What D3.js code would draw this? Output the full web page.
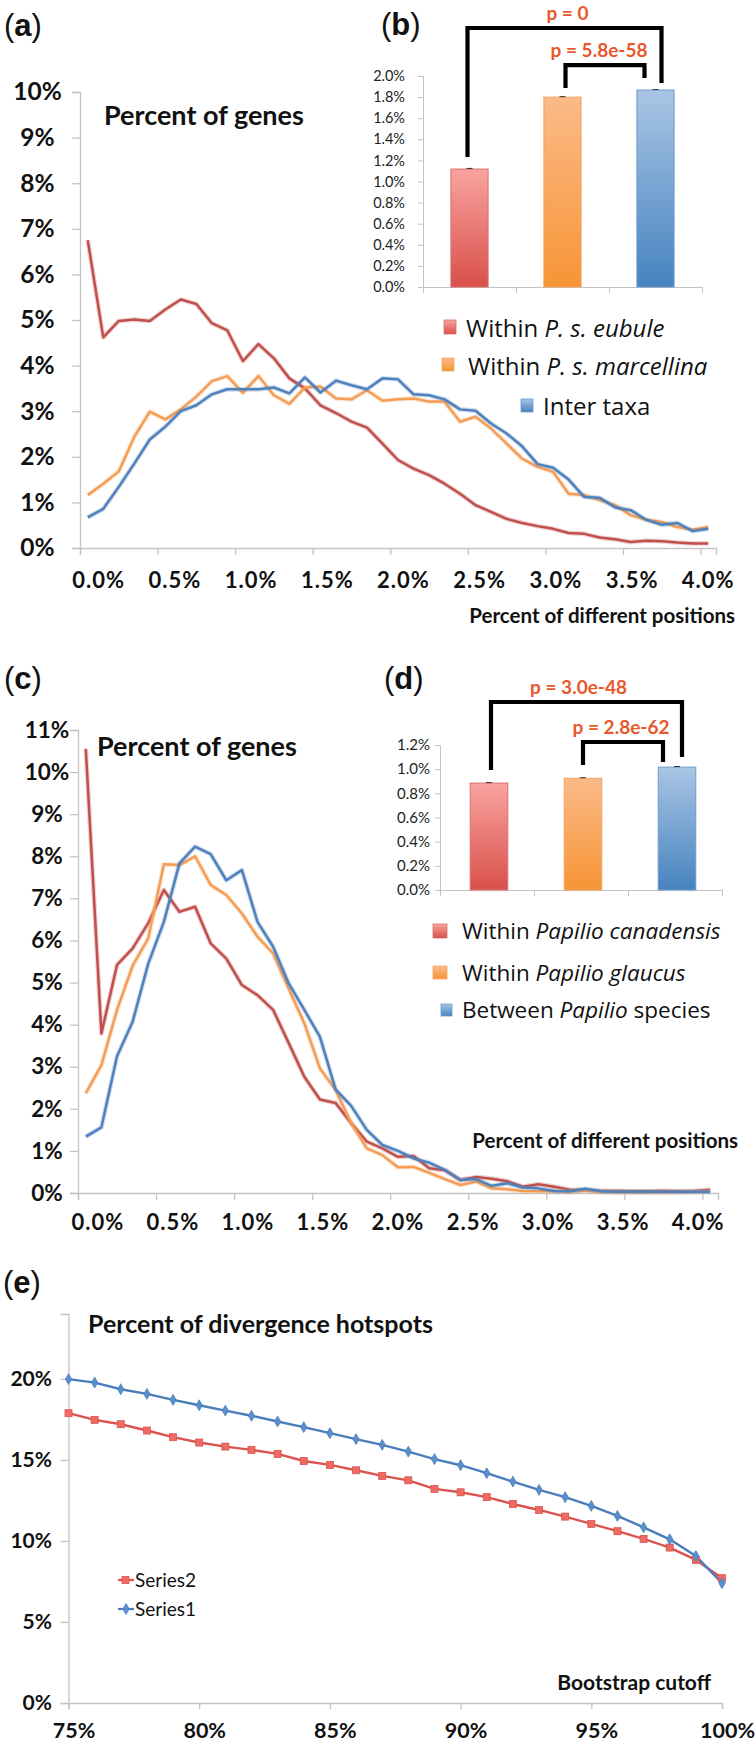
<!DOCTYPE html>
<html><head><meta charset="utf-8">
<script src="https://cdn.jsdelivr.net/npm/d3@7"></script>
<style>body{margin:0;background:#fff} svg{display:block}</style>
</head><body>
<svg id="chart" width="756" height="1748"></svg>
<script>
// ---------------- DATA ----------------
const divCats = ["0.0","0.1","0.2","0.3","0.4","0.5","0.6","0.7","0.8","0.9","1.0","1.1","1.2","1.3","1.4","1.5","1.6","1.7","1.8","1.9","2.0","2.1","2.2","2.3","2.4","2.5","2.6","2.7","2.8","2.9","3.0","3.1","3.2","3.3","3.4","3.5","3.6","3.7","3.8","3.9","4.0"];
const divTickLabels = ["0.0%","0.5%","1.0%","1.5%","2.0%","2.5%","3.0%","3.5%","4.0%"];
const divTickCats = ["0.0","0.5","1.0","1.5","2.0","2.5","3.0","3.5","4.0"];

// panel (a)
const aEubule = [6.75,4.62,4.98,5.01,4.98,5.23,5.45,5.35,4.93,4.77,4.10,4.47,4.16,3.72,3.50,3.13,2.96,2.77,2.64,2.29,1.93,1.74,1.60,1.41,1.19,0.94,0.79,0.64,0.55,0.48,0.42,0.33,0.31,0.23,0.19,0.13,0.16,0.15,0.12,0.10,0.10];
const aMarcellina = [1.16,1.41,1.68,2.44,2.99,2.82,3.04,3.32,3.66,3.77,3.40,3.77,3.35,3.16,3.52,3.54,3.28,3.26,3.46,3.23,3.26,3.28,3.21,3.21,2.77,2.88,2.62,2.29,1.96,1.78,1.67,1.19,1.16,1.05,0.94,0.72,0.62,0.57,0.46,0.40,0.46];
const aInter = [0.67,0.86,1.34,1.85,2.38,2.66,3.00,3.13,3.37,3.48,3.48,3.48,3.52,3.39,3.74,3.41,3.67,3.57,3.48,3.72,3.70,3.37,3.35,3.26,3.04,3.01,2.73,2.51,2.23,1.84,1.76,1.50,1.12,1.10,0.89,0.83,0.62,0.51,0.55,0.37,0.42];
const aYTicks = [0,1,2,3,4,5,6,7,8,9,10];

// panel (b)
const bGroups = ["Within P. s. eubule","Within P. s. marcellina","Inter taxa"];
const bValues = [1.118, 1.800, 1.867];
const bErrors = [0.006, 0.004, 0.005];
const bYTicks = [0,0.2,0.4,0.6,0.8,1.0,1.2,1.4,1.6,1.8,2.0];
const bPLabels = ["p = 0","p = 5.8e-58"];

// panel (c)
const cCanadensis = [10.55,3.79,5.42,5.81,6.41,7.20,6.68,6.80,5.93,5.57,4.94,4.70,4.35,3.56,2.76,2.22,2.14,1.66,1.22,1.06,0.86,0.88,0.59,0.54,0.31,0.38,0.34,0.28,0.15,0.21,0.15,0.08,0.07,0.05,0.05,0.04,0.04,0.05,0.04,0.05,0.08];
const cGlaucus = [2.37,3.04,4.35,5.40,6.05,7.81,7.79,8.00,7.32,7.08,6.64,6.09,5.69,4.85,4.03,2.96,2.45,1.66,1.06,0.90,0.61,0.62,0.48,0.33,0.19,0.27,0.11,0.09,0.05,0.04,0.05,0.03,0.06,0.03,0.02,0.02,0.02,0.02,0.03,0.03,0.04];
const cBetween = [1.34,1.56,3.25,4.07,5.45,6.44,7.83,8.23,8.05,7.43,7.67,6.44,5.85,4.98,4.35,3.71,2.46,2.07,1.50,1.14,1.00,0.82,0.72,0.55,0.31,0.33,0.17,0.23,0.13,0.11,0.05,0.04,0.10,0.04,0.03,0.03,0.03,0.03,0.03,0.03,0.03];
const cYTicks = [0,1,2,3,4,5,6,7,8,9,10,11];

// panel (d)
const dGroups = ["Within Papilio canadensis","Within Papilio glaucus","Between Papilio species"];
const dValues = [0.885, 0.925, 1.017];
const dErrors = [0.004, 0.004, 0.005];
const dYTicks = [0,0.2,0.4,0.6,0.8,1.0,1.2];
const dPLabels = ["p = 3.0e-48","p = 2.8e-62"];

// panel (e)
const eCutoff = [75,76,77,78,79,80,81,82,83,84,85,86,87,88,89,90,91,92,93,94,95,96,97,98,99,100];
const eSeries1 = [19.98,19.77,19.36,19.07,18.70,18.37,18.04,17.72,17.37,17.02,16.65,16.28,15.93,15.51,15.05,14.67,14.18,13.66,13.15,12.70,12.16,11.54,10.84,10.10,9.07,7.39];
const eSeries2 = [17.88,17.47,17.20,16.81,16.40,16.07,15.82,15.62,15.37,14.93,14.69,14.36,14.01,13.74,13.21,13.00,12.70,12.28,11.91,11.50,11.05,10.60,10.12,9.59,8.83,7.70];
const eYTicks = [0,5,10,15,20];
const eXTicks = [75,80,85,90,95,100];

// ---------------- STYLE ----------------
const FONT = "Lato, 'Open Sans', sans-serif";
const LEG_FONT = "'Open Sans', Lato, sans-serif";
const AXIS = "#c4c4c4";
const RED = "#c0504d", ORANGE = "#f59d55", BLUE = "#4f81bd";
const PCOL = "#e8582b";

const svg = d3.select("#chart");
svg.append("rect").attr("width",756).attr("height",1748).attr("fill","#fff");
const defs = svg.append("defs");
function grad(id, top, bottom){
  const g = defs.append("linearGradient").attr("id",id).attr("x1",0).attr("y1",0).attr("x2",0).attr("y2",1);
  g.append("stop").attr("offset","0%").attr("stop-color",top);
  g.append("stop").attr("offset","100%").attr("stop-color",bottom);
}
grad("gRed","#f9a39f","#d9504b");
grad("gOrg","#fbba88","#f79536");
grad("gBlu","#a9c5e4","#4683bf");
const GRADS = ["url(#gRed)","url(#gOrg)","url(#gBlu)"];
const BAR_STROKES = ["#d8716d","#f2a465","#6f9bcb"];

function panelLabel(x, y, letter){
  const t = svg.append("text").attr("x",x).attr("y",y)
    .attr("font-family","'Liberation Sans', Arial, sans-serif").attr("font-size",31).attr("fill","#111");
  t.append("tspan").text("(");
  t.append("tspan").attr("font-weight","bold").text(letter);
  t.append("tspan").text(")");
}
function boldText(x, y, txt, size, anchor){
  svg.append("text").attr("x",x).attr("y",y).attr("font-family",FONT).attr("font-weight","bold")
    .attr("font-size",size).attr("fill","#111").attr("text-anchor",anchor||"start").text(txt);
}
function styleAxis(g){
  g.select(".domain").attr("stroke",AXIS).attr("stroke-width",1.3);
  g.selectAll(".tick line").attr("stroke",AXIS).attr("stroke-width",1.3);
}

// ---------------- LINE PANELS (a),(c) ----------------
function linePanel(o){
  const n = o.cats.length;
  const x = d3.scaleBand().domain(o.cats).range([o.x0, o.x1]);
  const xb = d3.scaleLinear().domain([0, n]).range([o.x0, o.x1]);
  const y = d3.scaleLinear().domain([0, o.yMax]).range([o.yBase, o.yTop]);
  const g = svg.append("g");

  const ya = g.append("g").attr("transform",`translate(${o.x0},0)`)
    .call(d3.axisLeft(y).tickValues(o.yTicks).tickSize(8).tickFormat(d => d + "%"));
  styleAxis(ya);
  ya.selectAll(".tick text").attr("x", o.yLabelCX - o.x0).attr("text-anchor","middle")
    .attr("font-family",FONT).attr("font-weight","bold").attr("font-size",o.yFont).attr("fill","#111");

  const bounds = o.tickCats.map(c => o.cats.indexOf(c));
  const xa = g.append("g").attr("transform",`translate(0,${o.yBase})`)
    .call(d3.axisBottom(xb).tickValues(bounds).tickSize(7).tickFormat(""));
  styleAxis(xa);

  const lx = d3.scaleLinear().domain([0, n - 1])
    .range([x(o.cats[0]) + x.bandwidth()/2 + o.lblInset[0], x(o.cats[n-1]) + x.bandwidth()/2 - o.lblInset[1]]);
  g.selectAll("text.xl").data(o.tickLabels).join("text").attr("class","xl")
    .attr("x",(d,i) => lx(bounds[i])).attr("y", o.xLblY)
    .attr("text-anchor","middle").attr("font-family",FONT).attr("font-weight","bold")
    .attr("font-size",o.xFont).attr("letter-spacing",1).attr("fill","#111").text(d => d);

  const line = d3.line().x((d,i) => x(o.cats[i]) + x.bandwidth()/2).y(d => y(d));
  o.series.forEach(s => {
    g.append("path").datum(s.vals).attr("d",line).attr("fill","none")
      .attr("stroke",s.color).attr("stroke-opacity",0.25).attr("stroke-width",4.8).attr("stroke-linejoin","round");
    g.append("path").datum(s.vals).attr("d",line).attr("fill","none")
      .attr("stroke",s.color).attr("stroke-width",2.5).attr("stroke-linejoin","round");
  });
}

// ---------------- BAR PANELS (b),(d) ----------------
function barPanel(o){
  const x = d3.scaleBand().domain(o.groups).range([o.x0, o.x1]);
  const xb = d3.scaleLinear().domain([0, o.groups.length]).range([o.x0, o.x1]);
  const y = d3.scaleLinear().domain([0, o.yMax]).range([o.yBase, o.yTop]);
  const g = svg.append("g");
  const ya = g.append("g").attr("transform",`translate(${o.x0},0)`)
    .call(d3.axisLeft(y).tickValues(o.yTicks).tickSize(5).tickFormat(d => d.toFixed(1) + "%"));
  styleAxis(ya);
  ya.select(".domain").attr("stroke-width",1);
  ya.selectAll(".tick line").attr("stroke-width",1);
  ya.selectAll(".tick text").attr("x", -o.lblGap).attr("font-family",FONT).attr("font-size",o.yFont).attr("fill","#222");
  const xa = g.append("g").attr("transform",`translate(0,${o.yBase})`)
    .call(d3.axisBottom(xb).tickValues(d3.range(o.groups.length + 1)).tickSize(6).tickFormat(""));
  styleAxis(xa);
  xa.select(".domain").attr("stroke-width",1);
  xa.selectAll(".tick line").attr("stroke-width",1);

  const bw = x.bandwidth() * 0.4;
  const cx = d => x(d) + x.bandwidth()/2 + o.barShift;
  g.selectAll("rect.bar").data(o.groups).join("rect").attr("class","bar")
    .attr("x", d => cx(d) - bw/2).attr("width", bw)
    .attr("y",(d,i) => y(o.values[i])).attr("height",(d,i) => y(0) - y(o.values[i]))
    .attr("fill",(d,i) => GRADS[i]).attr("stroke",(d,i) => BAR_STROKES[i]).attr("stroke-width",1);
  // tiny error bars
  o.groups.forEach((d,i) => {
    const c = cx(d), t = y(o.values[i] + o.errors[i]);
    g.append("line").attr("x1",c).attr("x2",c).attr("y1",y(o.values[i])).attr("y2",t).attr("stroke","#333").attr("stroke-width",1);
    g.append("line").attr("x1",c-3).attr("x2",c+3).attr("y1",t).attr("y2",t).attr("stroke","#333").attr("stroke-width",1);
  });
  // significance brackets
  o.brackets.forEach((b,k) => {
    const xl = cx(o.groups[b.from]) + b.dl, xr = cx(o.groups[b.to]) + b.dr;
    g.append("path").attr("d",`M${xl},${y(b.lb)}V${y(b.top)}H${xr}V${y(b.rb)}`)
      .attr("fill","none").attr("stroke","#000").attr("stroke-width",4.2).attr("stroke-linejoin","miter");
    g.append("text").attr("x",(xl + xr)/2 + b.tdx).attr("y",y(b.top) - 8)
      .attr("text-anchor","middle").attr("font-family",FONT).attr("font-weight","bold")
      .attr("font-size",19).attr("fill",PCOL).text(o.pLabels[k]);
  });
}

function legend(items, fontSize){
  items.forEach((it,i) => {
    svg.append("rect").attr("x",it.sx).attr("y",it.sy).attr("width",it.sw).attr("height",it.sh)
      .attr("fill",GRADS[i]).attr("stroke",BAR_STROKES[i]).attr("stroke-width",0.8);
    const t = svg.append("text").attr("x",it.tx).attr("y",it.ty).attr("font-family",LEG_FONT)
      .attr("font-size",fontSize).attr("fill","#111");
    it.parts.forEach(p => t.append("tspan").attr("font-style", p[1] ? "italic" : "normal").text(p[0]));
  });
}

// ---------------- PANEL (a) ----------------
panelLabel(4, 36, "a");
linePanel({cats:divCats, tickCats:divTickCats, tickLabels:divTickLabels,
  series:[{vals:aEubule,color:RED},{vals:aMarcellina,color:ORANGE},{vals:aInter,color:BLUE}],
  x0:80, x1:716, yBase:548, yTop:92, yMax:10, yTicks:aYTicks, yLabelCX:37.5, yFont:24.5,
  xLblY:588, xFont:22, lblInset:[11,0]});
boldText(104, 125, "Percent of genes", 27);
boldText(735, 623, "Percent of different positions", 20.5, "end");

// ---------------- PANEL (b) ----------------
panelLabel(381, 35, "b");
barPanel({groups:bGroups, values:bValues, errors:bErrors, x0:423, x1:702, yBase:287, yTop:76, yMax:2.0,
  yTicks:bYTicks, yFont:14.5, lblGap:18, barShift:0, pLabels:bPLabels,
  brackets:[{from:0,to:2,top:2.455,lb:1.232,rb:1.934,dl:-2,dr:6,tdx:3},
            {from:1,to:2,top:2.104,lb:1.886,rb:1.981,dl:3,dr:-11,tdx:-6}]});
legend([
  {sx:444, sy:320, sw:12, sh:14, tx:466, ty:337, parts:[["Within ",0],["P. s. eubule",1]]},
  {sx:442, sy:358, sw:12, sh:13, tx:468, ty:375, parts:[["Within ",0],["P. s. marcellina",1]]},
  {sx:521, sy:399, sw:12, sh:13, tx:543, ty:415, parts:[["Inter taxa",0]]}
], 24);

// ---------------- PANEL (c) ----------------
panelLabel(4, 689, "c");
linePanel({cats:divCats, tickCats:divTickCats, tickLabels:divTickLabels,
  series:[{vals:cCanadensis,color:RED},{vals:cGlaucus,color:ORANGE},{vals:cBetween,color:BLUE}],
  x0:78, x1:718, yBase:1193, yTop:730, yMax:11, yTicks:cYTicks, yLabelCX:47, yFont:22.5,
  xLblY:1230, xFont:22, lblInset:[12,12]});
boldText(97, 756, "Percent of genes", 27);
boldText(738, 1148, "Percent of different positions", 20.5, "end");

// ---------------- PANEL (d) ----------------
panelLabel(384, 689, "d");
barPanel({groups:dGroups, values:dValues, errors:dErrors, x0:440, x1:722, yBase:890, yTop:745, yMax:1.2,
  yTicks:dYTicks, yFont:15, lblGap:10, barShift:2, pLabels:dPLabels,
  brackets:[{from:0,to:2,top:1.556,lb:0.993,rb:1.101,dl:2,dr:5,tdx:-8},
            {from:1,to:2,top:1.225,lb:1.034,rb:1.059,dl:0,dr:-14,tdx:-2}]});
legend([
  {sx:433, sy:924, sw:14, sh:14, tx:462, ty:939, parts:[["Within ",0],["Papilio canadensis",1]]},
  {sx:433, sy:966, sw:14, sh:13, tx:462, ty:981, parts:[["Within ",0],["Papilio glaucus",1]]},
  {sx:441, sy:1004, sw:11, sh:12, tx:462, ty:1018, parts:[["Between ",0],["Papilio",1],[" species",0]]}
], 22.5);

// ---------------- PANEL (e) ----------------
panelLabel(3, 1293, "e");
(function(){
  const x = d3.scaleLinear().domain([75,100]).range([68.5,722]);
  const y = d3.scaleLinear().domain([0,24]).range([1703,1314]);
  const g = svg.append("g");
  const ya = g.append("g").attr("transform","translate(68.5,0)")
    .call(d3.axisLeft(y).tickValues(eYTicks).tickSize(8).tickFormat(d => d + "%"));
  styleAxis(ya);
  ya.selectAll(".tick text").attr("x",-16.5).attr("font-family",FONT).attr("font-weight","bold")
    .attr("font-size",21).attr("fill","#111");
  const xa = g.append("g").attr("transform","translate(0,1703)")
    .call(d3.axisBottom(x).tickValues(eXTicks).tickSize(6).tickFormat(d => d + "%"));
  styleAxis(xa);
  xa.selectAll(".tick text").attr("y",20).attr("dy","0.71em").attr("dx",5).attr("font-family",FONT)
    .attr("font-weight","bold").attr("font-size",21.5).attr("fill","#111");

  const line = d3.line().x((d,i) => x(eCutoff[i])).y(d => y(d));
  const S2 = "#d9534f", S1 = "#4a7ebb";
  g.append("path").datum(eSeries2).attr("d",line).attr("fill","none").attr("stroke",S2).attr("stroke-width",2.4);
  g.append("path").datum(eSeries1).attr("d",line).attr("fill","none").attr("stroke",S1).attr("stroke-width",2.4);
  g.selectAll("rect.m2").data(eSeries2).join("rect").attr("class","m2")
    .attr("x",(d,i) => x(eCutoff[i]) - 3.5).attr("y",d => y(d) - 3.5).attr("width",7).attr("height",7)
    .attr("fill","#ee6b64").attr("stroke","#d9534f").attr("stroke-width",0.8);
  const diamond = d3.symbol().type(d3.symbolDiamond).size(34);
  g.selectAll("path.m1").data(eSeries1).join("path").attr("class","m1")
    .attr("transform",(d,i) => `translate(${x(eCutoff[i])},${y(d)})`).attr("d",diamond)
    .attr("fill","#5b8fcc").attr("stroke","#4a7ebb").attr("stroke-width",0.8);

  // legend
  const leg = [{name:"Series2", color:S2, y:1580, sq:true},{name:"Series1", color:S1, y:1609, sq:false}];
  leg.forEach(l => {
    g.append("line").attr("x1",118).attr("x2",134).attr("y1",l.y).attr("y2",l.y).attr("stroke",l.color).attr("stroke-width",2.2);
    if (l.sq) g.append("rect").attr("x",122).attr("y",l.y-3.5).attr("width",7).attr("height",7).attr("fill","#ee6b64").attr("stroke",l.color).attr("stroke-width",0.8);
    else g.append("path").attr("transform",`translate(126,${l.y})`).attr("d",diamond).attr("fill","#5b8fcc").attr("stroke",l.color).attr("stroke-width",0.8);
    g.append("text").attr("x",135).attr("y",l.y + 7).attr("font-family",FONT).attr("font-size",19).attr("fill","#111").text(l.name);
  });
})();
boldText(88, 1333, "Percent of divergence hotspots", 25);
boldText(711, 1690, "Bootstrap cutoff", 21, "end");
</script>
</body></html>
